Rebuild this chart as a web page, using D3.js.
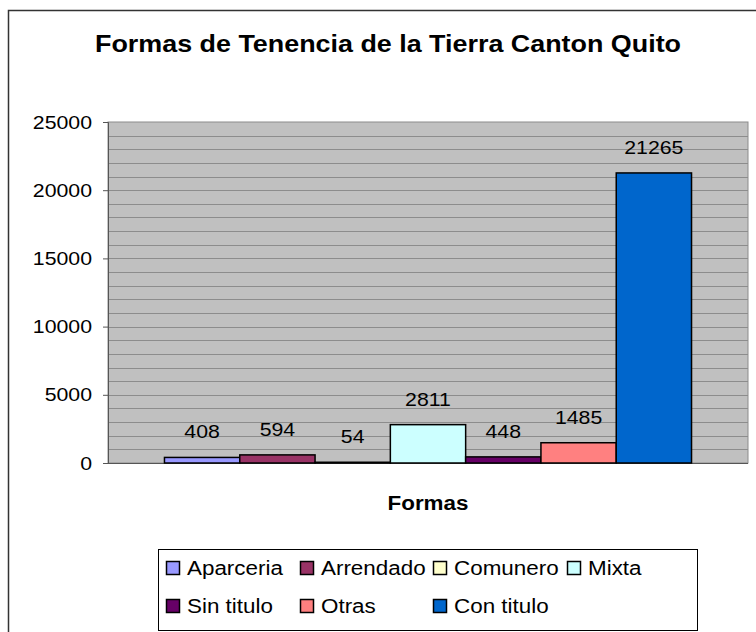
<!DOCTYPE html>
<html>
<head>
<meta charset="utf-8">
<script src="https://cdn.jsdelivr.net/npm/d3@7/dist/d3.min.js"></script>
<style>
  html, body { margin: 0; padding: 0; background: #fff; }
  svg { display: block; font-family: "Liberation Sans", Arial, sans-serif; }
</style>
</head>
<body>
<svg id="chart" width="756" height="632"></svg>
<script>
// Land tenure forms, Quito canton
const series = ["Aparceria", "Arrendado", "Comunero", "Mixta", "Sin titulo", "Otras", "Con titulo"];
const values = [408, 594, 54, 2811, 448, 1485, 21265];
const colors = ["#9999ff", "#993366", "#ffffcc", "#ccffff", "#660066", "#ff8080", "#0066cc"];
const yTicks = [0, 5000, 10000, 15000, 20000, 25000];
const category = "Formas";
const title = "Formas de Tenencia de la Tierra Canton Quito";

const svg = d3.select("#chart");

// widen glyphs horizontally, keeping each text's anchor in place
function widen(sel, k) {
  sel.each(function () {
    const len = this.getComputedTextLength();
    d3.select(this).attr("textLength", len * k).attr("lengthAdjust", "spacingAndGlyphs");
  });
}
const K = 1.12;

// outer chart frame
svg.append("rect")
  .attr("x", 8.5).attr("y", 10.5)
  .attr("width", 800).attr("height", 700)
  .attr("fill", "#fff").attr("stroke", "#333").attr("stroke-width", 1.5);

// title
svg.append("text")
  .attr("x", 388).attr("y", 52)
  .attr("text-anchor", "middle")
  .attr("font-size", 24).attr("font-weight", "bold")
  .text(title)
  .call(widen, K);

const plot = { left: 108, right: 748, top: 122, bottom: 463 };

const y = d3.scaleLinear().domain([0, 25000]).range([plot.bottom, plot.top]);
const x = d3.scaleBand().domain(series)
  .range([plot.left, plot.right])
  .paddingInner(0).paddingOuter(0.75);

// plot background
svg.append("rect")
  .attr("x", plot.left).attr("y", plot.top)
  .attr("width", plot.right - plot.left).attr("height", plot.bottom - plot.top)
  .attr("fill", "#c0c0c0").attr("stroke", "#8c8c8c").attr("stroke-width", 1);

// gridlines every 1000
svg.append("g").selectAll("line")
  .data(d3.range(1000, 25000, 1000))
  .join("line")
  .attr("x1", plot.left).attr("x2", plot.right)
  .attr("y1", d => Math.round(y(d)) + 0.5).attr("y2", d => Math.round(y(d)) + 0.5)
  .attr("stroke", "#8c8c8c").attr("stroke-width", 1);

// y axis
const yAxis = svg.append("g")
  .attr("transform", `translate(${plot.left},0)`)
  .call(d3.axisLeft(y).tickValues(yTicks).tickSize(5).tickPadding(11).tickFormat(d3.format("d")));
yAxis.select(".domain").attr("stroke", "#555");
yAxis.selectAll(".tick line").attr("stroke", "#555");
yAxis.selectAll("text").attr("font-size", 19).attr("fill", "#000")
  .attr("font-family", "Liberation Sans, Arial, sans-serif")
  .call(widen, K);

// baseline
svg.append("line")
  .attr("x1", plot.left).attr("x2", plot.right)
  .attr("y1", plot.bottom + 0.5).attr("y2", plot.bottom + 0.5)
  .attr("stroke", "#555");

// bars
const rows = series.map((s, i) => ({ name: s, value: values[i], color: colors[i] }));
svg.append("g").selectAll("rect")
  .data(rows)
  .join("rect")
  .attr("x", d => x(d.name))
  .attr("y", d => y(d.value))
  .attr("width", x.bandwidth())
  .attr("height", d => y(0) - y(d.value))
  .attr("fill", d => d.color)
  .attr("stroke", "#000").attr("stroke-width", 1.5);

// value labels
svg.append("g").selectAll("text")
  .data(rows)
  .join("text")
  .attr("x", d => x(d.name) + x.bandwidth() / 2)
  .attr("y", d => y(d.value) - 19)
  .attr("text-anchor", "middle")
  .attr("font-size", 19)
  .text(d => d.value)
  .call(widen, K);

// category axis title
svg.append("text")
  .attr("x", (plot.left + plot.right) / 2).attr("y", 510)
  .attr("text-anchor", "middle")
  .attr("font-size", 20).attr("font-weight", "bold")
  .text(category)
  .call(widen, K);

// legend
const lg = svg.append("g");
lg.append("rect")
  .attr("x", 158.5).attr("y", 549.5).attr("width", 539).attr("height", 81)
  .attr("fill", "#fff").attr("stroke", "#000").attr("stroke-width", 1);
const colX = [166, 300, 433, 567];
const rowY = [568, 606];
const items = lg.selectAll("g.item")
  .data(rows)
  .join("g")
  .attr("class", "item")
  .attr("transform", (d, i) => `translate(${colX[i % 4]},${rowY[Math.floor(i / 4)]})`);
items.append("rect")
  .attr("x", 0.5).attr("y", -6.5).attr("width", 13).attr("height", 13)
  .attr("fill", d => d.color).attr("stroke", "#000").attr("stroke-width", 1.5);
items.append("text")
  .attr("x", 21).attr("y", 7)
  .attr("font-size", 20)
  .text(d => d.name)
  .call(widen, K);
</script>
</body>
</html>
